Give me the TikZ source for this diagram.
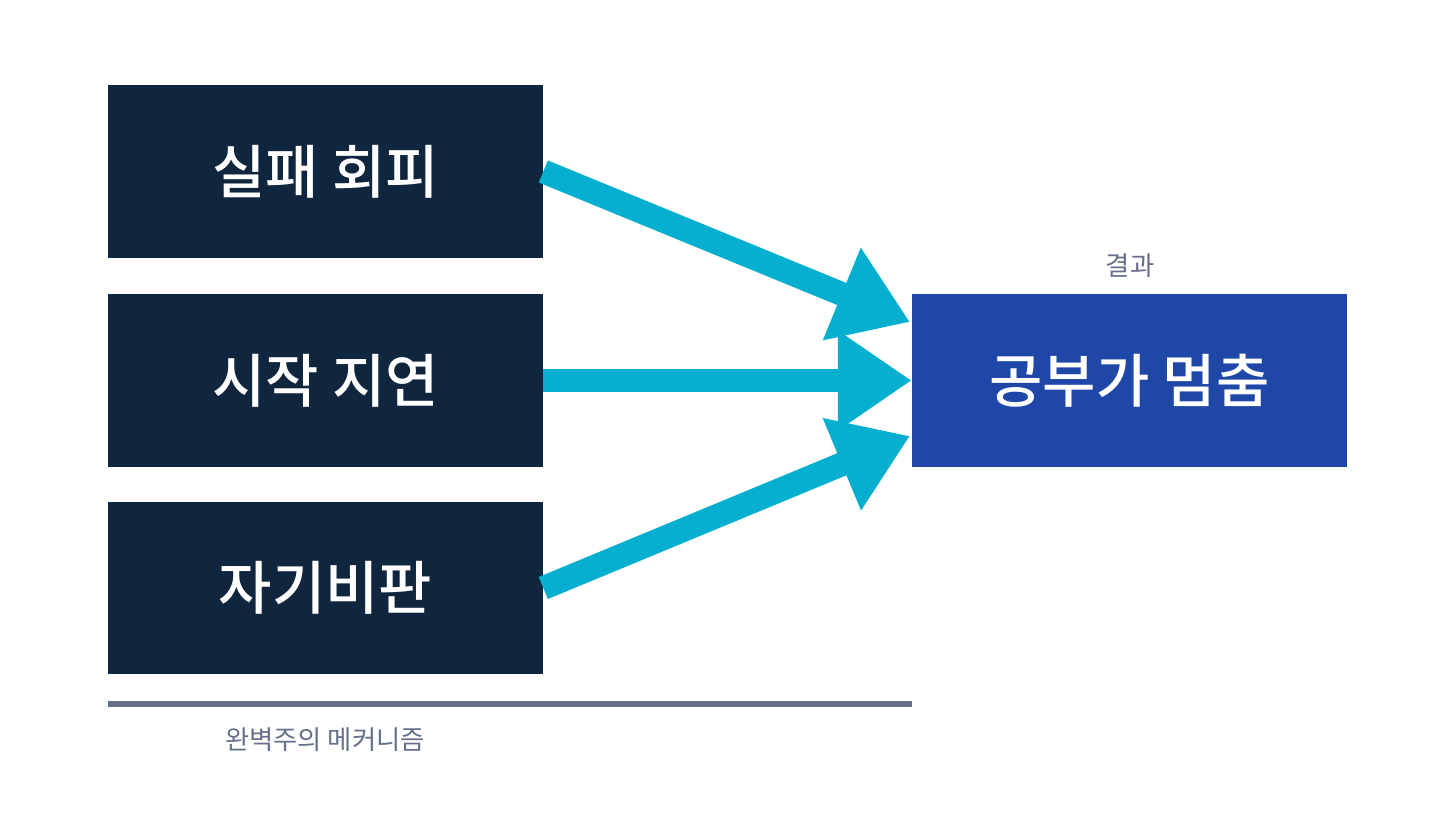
\documentclass[tikz,border=0pt]{standalone}
\usepackage{fontspec}
\newfontfamily\kr{Noto Sans CJK KR}
\newfontfamily\krb{Noto Sans CJK KR Medium}
\usetikzlibrary{arrows.meta}
\definecolor{navy}{HTML}{10263F}
\definecolor{royal}{HTML}{1F47A8}
\definecolor{cyanarr}{HTML}{06AED0}
\definecolor{slate}{HTML}{66708A}
\begin{document}
\begin{tikzpicture}[x=0.02cm,y=-0.02cm]
  \tikzstyle{box}=[draw=none, minimum width=8.7cm, minimum height=3.46cm, text=white, font=\krb\fontsize{33}{36}\selectfont]
  \tikzstyle{flow}=[cyanarr, line width=13.6pt, -{Triangle[length=42pt,width=54pt]}]
  \useasboundingbox (0,0) rectangle (1456,813);
  \node[box, fill=navy] (fail) at (325.5,171.5) {실패 회피};
  \node[box, fill=navy] (delay) at (325.5,380.5) {시작 지연};
  \node[box, fill=navy] (blame) at (325.5,588) {자기비판};
  \node[box, fill=royal] (stop) at (1129.5,380.5) {공부가 멈춤};
  \node[text=slate, font=\kr\fontsize{15}{18}\selectfont] (res) at (1130,266) {결과};
  \coordinate (top) at (910,322);
  \coordinate (bot) at (910,436);
  \draw[flow] (fail.east) -- (top);
  \draw[flow] (delay.east) -- (stop.west);
  \draw[flow] (blame.east) -- (bot);
  \coordinate (la) at (108,704);
  \coordinate (lb) at (912,704);
  \draw[slate, line width=3.4pt] (la) -- (lb);
  \node[text=slate, font=\kr\fontsize{15}{18}\selectfont] (mech) at (325,740) {완벽주의 메커니즘};
\end{tikzpicture}
\end{document}
